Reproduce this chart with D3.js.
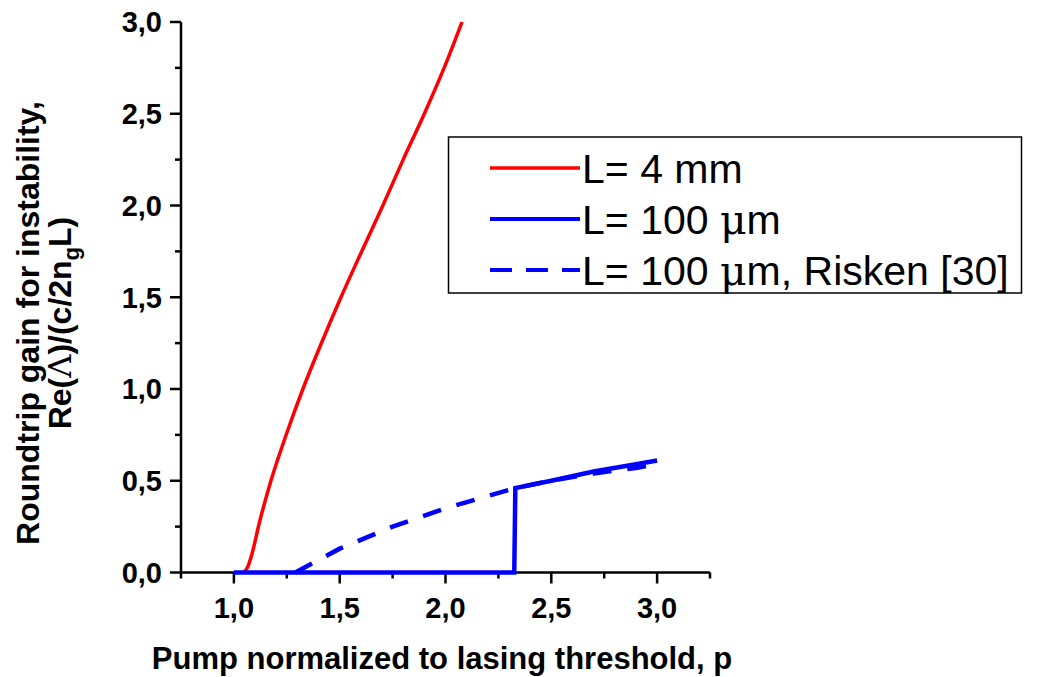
<!DOCTYPE html>
<html>
<head>
<meta charset="utf-8">
<script src="https://cdn.jsdelivr.net/npm/d3@7"></script>
<style>
  body { margin: 0; background: #fff; }
  text { font-family: Arial, "Liberation Sans", sans-serif; }
</style>
</head>
<body>
<div id="chart"></div>
<script>
// data
var redP = [1.047, 1.065, 1.085, 1.12, 1.175, 1.25, 1.326, 1.41, 1.506, 1.60, 1.704, 1.80, 1.90, 1.99, 2.078];
var redG = [0.00, 0.03, 0.10, 0.27, 0.50, 0.76, 1.00, 1.24, 1.50, 1.74, 2.00, 2.25, 2.50, 2.74, 3.00];

var blueP = [1.00, 2.325, 2.33, 2.50, 2.70, 2.90, 3.00];
var blueG = [0.00, 0.00, 0.46, 0.50, 0.55, 0.59, 0.61];

var riskenP = [1.29, 1.50, 1.75, 2.00, 2.33, 2.50, 2.70, 2.90, 3.00];
var riskenG = [0.00, 0.13, 0.25, 0.35, 0.46, 0.50, 0.54, 0.57, 0.59];

var xTicks = [1.0, 1.5, 2.0, 2.5, 3.0];
var yTicks = [0.0, 0.5, 1.0, 1.5, 2.0, 2.5, 3.0];
var legendLabels = [["L= 4 mm", ""], ["L= 100 ", "m"], ["L= 100 ", "m, Risken [30]"]];

var width = 1040, height = 677;
var svg = d3.select("#chart").append("svg")
            .attr("width", width)
            .attr("height", height);

var x = d3.scaleLinear().domain([0.75, 3.25]).range([181, 710]);
var y = d3.scaleLinear().domain([0, 3]).range([572.5, 22]);

var fmt = d => d3.format(".1f")(d).replace(".", ",");

// x axis
var xAxis = svg.append("g")
               .attr("transform", "translate(0," + y(0) + ")");
xAxis.append("line")
     .attr("x1", x(0.75)).attr("x2", x(3.25))
     .attr("stroke", "#000").attr("stroke-width", 2.5);
xAxis.selectAll(".minor")
     .data(d3.range(0.75, 3.26, 0.25))
     .join("line")
     .attr("x1", d => x(d)).attr("x2", d => x(d))
     .attr("y1", 0).attr("y2", d => xTicks.some(t => Math.abs(t - d) < 1e-6) ? 11 : 6)
     .attr("stroke", "#000").attr("stroke-width", 2.5);
xAxis.selectAll(".lbl")
     .data(xTicks)
     .join("text")
     .attr("x", d => x(d))
     .attr("y", 45)
     .attr("text-anchor", "middle")
     .style("font-size", "29px")
     .style("font-weight", "bold")
     .text(fmt);

// y axis
var yAxis = svg.append("g")
               .attr("transform", "translate(" + x(0.75) + ",0)");
yAxis.append("line")
     .attr("y1", y(0)).attr("y2", y(3))
     .attr("stroke", "#000").attr("stroke-width", 2.5);
yAxis.selectAll(".minor")
     .data(d3.range(0, 3.01, 0.25))
     .join("line")
     .attr("y1", d => y(d)).attr("y2", d => y(d))
     .attr("x1", 0).attr("x2", d => yTicks.some(t => Math.abs(t - d) < 1e-6) ? -11 : -6)
     .attr("stroke", "#000").attr("stroke-width", 2.5);
yAxis.selectAll(".lbl")
     .data(yTicks)
     .join("text")
     .attr("x", -19)
     .attr("y", d => y(d))
     .attr("dy", "0.36em")
     .attr("text-anchor", "end")
     .style("font-size", "29px")
     .style("font-weight", "bold")
     .text(fmt);

// axis titles
svg.append("text")
   .attr("x", 442)
   .attr("y", 669)
   .attr("text-anchor", "middle")
   .style("font-size", "31px")
   .style("font-weight", "bold")
   .text("Pump normalized to lasing threshold, p");

var yTitle = svg.append("g")
                .attr("transform", "translate(0,323) rotate(-90)");
yTitle.append("text")
      .attr("x", 0).attr("y", 39)
      .attr("text-anchor", "middle")
      .style("font-size", "32px")
      .style("font-weight", "bold")
      .text("Roundtrip gain for instability,");
var t2 = yTitle.append("text")
      .attr("x", 0).attr("y", 71)
      .attr("text-anchor", "middle")
      .style("font-size", "32px")
      .style("font-weight", "bold");
t2.append("tspan").text("Re(");
t2.append("tspan").style("font-family", "'DejaVu Serif', serif").style("font-weight", "normal").text("\u039b");
t2.append("tspan").text(")/(c/2n");
t2.append("tspan").attr("dy", 8).style("font-size", "22px").text("g");
t2.append("tspan").attr("dy", -8).text("L)");

// curves
var line = d3.line().x(d => x(d[0])).y(d => y(d[1])).curve(d3.curveMonotoneX);
var lineLin = d3.line().x(d => x(d[0])).y(d => y(d[1]));

svg.append("path")
   .attr("d", line(d3.zip(redP, redG)))
   .attr("fill", "none").attr("stroke", "#ff0000").attr("stroke-width", 3.5);

svg.append("path")
   .attr("d", lineLin(d3.zip(riskenP, riskenG)))
   .attr("fill", "none").attr("stroke", "#0000ff").attr("stroke-width", 4.5)
   .attr("stroke-dasharray", "19,16");

svg.append("path")
   .attr("d", lineLin(d3.zip(blueP, blueG)))
   .attr("fill", "none").attr("stroke", "#0000ff").attr("stroke-width", 4.5);

// legend
var legend = svg.append("g");
legend.append("rect")
      .attr("x", 448.5).attr("y", 137)
      .attr("width", 573).attr("height", 156)
      .attr("fill", "#fff").attr("stroke", "#000").attr("stroke-width", 1.5);
var styles = [
  { color: "#ff0000", dash: null, w: 3.5 },
  { color: "#0000ff", dash: null, w: 4 },
  { color: "#0000ff", dash: "22,14", w: 4 }
];
legendLabels.forEach(function(lbl, i) {
  var yy = 168 + i * 51;
  legend.append("line")
        .attr("x1", 490).attr("x2", 580)
        .attr("y1", yy).attr("y2", yy)
        .attr("stroke", styles[i].color)
        .attr("stroke-width", styles[i].w)
        .attr("stroke-dasharray", styles[i].dash);
  var t = legend.append("text")
        .attr("x", 582).attr("y", yy)
        .attr("dy", "0.36em")
        .style("font-size", "41px");
  t.append("tspan").text(lbl[0]);
  if (lbl[1]) {
    t.append("tspan").style("font-family", "'DejaVu Serif', serif").text("\u03bc");
    t.append("tspan").text(lbl[1]);
  }
});
</script>
</body>
</html>
